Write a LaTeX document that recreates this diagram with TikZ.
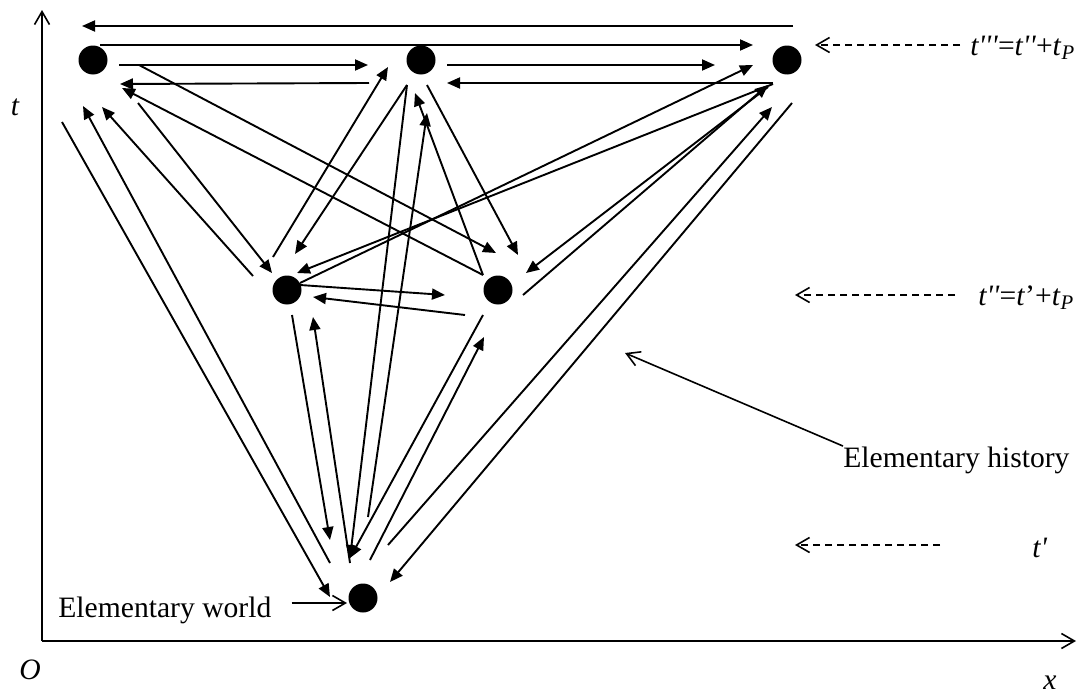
\documentclass[tikz,border=0pt]{standalone}
\usepackage{fontspec}
\setmainfont{Liberation Serif}
\usepackage{tikz}
\usetikzlibrary{arrows.meta,positioning,calc}
\tikzstyle{world} = [circle, fill=black, inner sep=0pt, minimum size=14.5pt]
\tikzstyle{arrow} = [line width=0.95pt, -{Triangle[length=6.5pt,width=5.5pt]}]
\tikzstyle{pointer} = [line width=0.8pt, -{Straight Barb[length=6.5pt,width=7.5pt]}]
\tikzstyle{guide} = [pointer, dash pattern=on 3.5pt off 2.5pt]
\tikzstyle{lbl} = [font=\fontsize{14.8}{17}\selectfont, inner sep=0pt]
\newcommand{\tq}{\textquotesingle}

\begin{document}
\begin{tikzpicture}[x=0.5pt, y=-0.5pt]
\useasboundingbox (0,0) rectangle (1078,696);

% ── Axes ────
\coordinate (orig) at (42,641);
\coordinate (tend) at (42,10);
\coordinate (xend) at (1076,641);
\draw[pointer] (orig) -- (tend);
\draw[pointer] (orig) -- (xend);
\node[lbl, font=\fontsize{14.8}{17}\selectfont\itshape] (tlbl) at (15,107) {t};
\node[lbl, font=\fontsize{14.8}{17}\selectfont\itshape] (olbl) at (30,670) {O};
\node[lbl, font=\fontsize{14.8}{17}\selectfont\itshape] (xlbl) at (1050,683) {x};

% ── Elementary worlds ────
\node[world] (wA) at (93,60) {};
\node[world] (wB) at (421,60) {};
\node[world] (wC) at (787,60) {};
\node[world] (wD) at (287,290) {};
\node[world] (wE) at (498,290) {};
\node[world] (wF) at (363,598) {};

% ── Top row ────
\draw[arrow] ([shift={(6,-34)}]wC.center) -- ([shift={(-11,-34)}]wA.center);
\draw[arrow] ([shift={(7,-15)}]wA.center) -- ([shift={(-34,-15)}]wC.center);
\draw[arrow] ([shift={(26,5)}]wA.center) -- ([shift={(-53,5)}]wB.center);
\draw[arrow] ([shift={(-52,23)}]wB.center) -- ([shift={(27,24)}]wA.center);
\draw[arrow] ([shift={(26,5)}]wB.center) -- ([shift={(-72,5)}]wC.center);
\draw[arrow] ([shift={(-14,23)}]wC.center) -- ([shift={(26,23)}]wB.center);

% ── From / to A ────
\draw[arrow] ([shift={(46,5)}]wA.center) -- ([shift={(-2,-37)}]wE.center);
\draw[arrow] ([shift={(-15,-15)}]wE.center) -- ([shift={(29,28)}]wA.center);
\draw[arrow] ([shift={(45,43)}]wA.center) -- ([shift={(-15,-17)}]wD.center);
\draw[arrow] ([shift={(-34,-14)}]wD.center) -- ([shift={(9,47)}]wA.center);
\draw[arrow] ([shift={(-31,62)}]wA.center) -- ([shift={(-33,-1)}]wF.center);
\draw[arrow] ([shift={(-33,-35)}]wF.center) -- ([shift={(-10,46)}]wA.center);

% ── From / to B ────
\draw[arrow] ([shift={(-14,-33)}]wD.center) -- ([shift={(-33,7)}]wB.center);
\draw[arrow] ([shift={(-14,25)}]wB.center) -- ([shift={(8,-36)}]wD.center);
\draw[arrow] ([shift={(-14,25)}]wB.center) -- ([shift={(-13,-40)}]wF.center);
\draw[arrow] ([shift={(5,-81)}]wF.center) -- ([shift={(6,53)}]wB.center);
\draw[arrow] ([shift={(6,25)}]wB.center) -- ([shift={(20,-35)}]wE.center);
\draw[arrow] ([shift={(-15,-15)}]wE.center) -- ([shift={(-6,33)}]wB.center);

% ── From / to C ────
\draw[arrow] ([shift={(13,-7)}]wD.center) -- ([shift={(-34,5)}]wC.center);
\draw[arrow] ([shift={(-14,24)}]wC.center) -- ([shift={(10,-17)}]wD.center);
\draw[arrow] ([shift={(25,5)}]wE.center) -- ([shift={(-19,25)}]wC.center);
\draw[arrow] ([shift={(-19,27)}]wC.center) -- ([shift={(28,-17)}]wE.center);
\draw[arrow] ([shift={(5,43)}]wC.center) -- ([shift={(27,-16)}]wF.center);
\draw[arrow] ([shift={(25,-53)}]wF.center) -- ([shift={(-15,47)}]wC.center);

% ── Middle and bottom ────
\draw[arrow] ([shift={(13,-5)}]wD.center) -- ([shift={(-53,5)}]wE.center);
\draw[arrow] ([shift={(-33,25)}]wE.center) -- ([shift={(26,7)}]wD.center);
\draw[arrow] ([shift={(5,25)}]wD.center) -- ([shift={(-33,-58)}]wF.center);
\draw[arrow] ([shift={(-13,-35)}]wF.center) -- ([shift={(26,27)}]wD.center);
\draw[arrow] ([shift={(-15,25)}]wE.center) -- ([shift={(-13,-40)}]wF.center);
\draw[arrow] ([shift={(7,-38)}]wF.center) -- ([shift={(-14,47)}]wE.center);

% ── Labels ────
\node[lbl, anchor=base west] (lblworld) at (58,617) {Elementary world};
\draw[pointer] ([shift={(20,-14)}]lblworld.base east) -- ([shift={(-16,5)}]wF.center);
\node[lbl, anchor=base west] (lblhist) at (843,467) {Elementary history};
\coordinate (hist) at (625,353);
\draw[pointer] (lblhist.north west) -- (hist);

% ── Time levels ────
\node[lbl, anchor=base west] (lvlC) at (970,55) {\textit{t\tq\tq\tq}=\textit{t\tq\tq}+\textit{t}\textsubscript{\textit{P}}};
\node[lbl, anchor=base west] (lvlB) at (978,305) {\textit{t\tq\tq}=\textit{t}’+\textit{t}\textsubscript{\textit{P}}};
\node[lbl, anchor=base west] (lvlA) at (1032,557) {\textit{t\tq}};
\coordinate (guideC) at (815,45);
\coordinate (guideB) at (795,295);
\coordinate (guideA) at (795,545);
\draw[guide] ([shift={(-10,-10)}]lvlC.base west) -- (guideC);
\draw[guide] ([shift={(-23,-10)}]lvlB.base west) -- (guideB);
\draw[guide] ([shift={(-92,-12)}]lvlA.base west) -- (guideA);

\end{tikzpicture}
\end{document}
